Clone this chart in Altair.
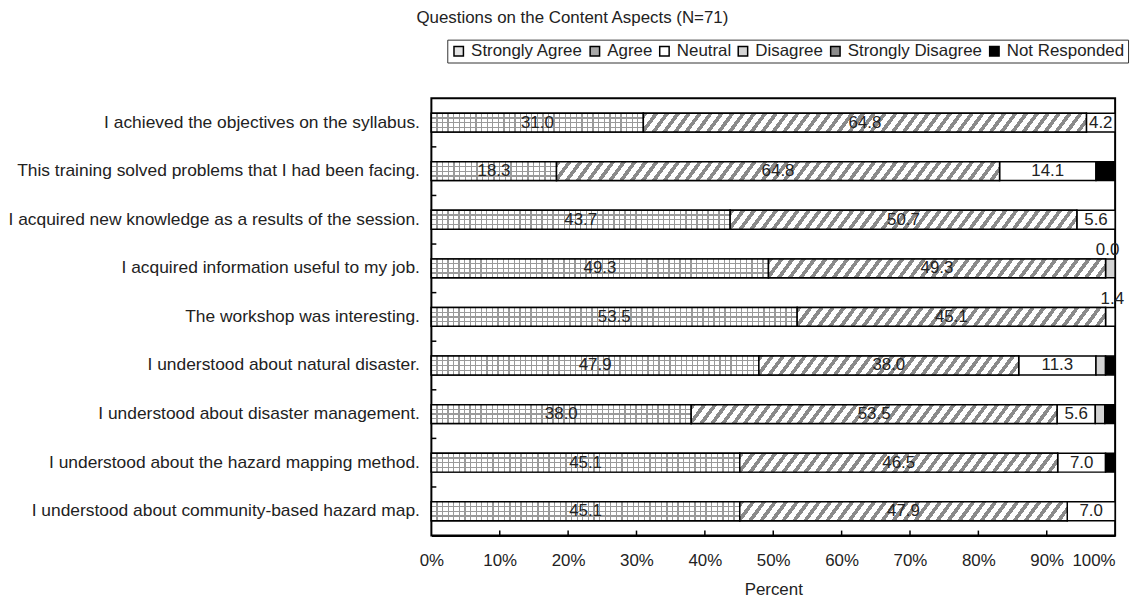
import altair as alt
import pandas as pd

FONT = "Liberation Sans"

questions = [
    "I achieved the objectives on the syllabus.",
    "This training solved problems that I had been facing.",
    "I acquired new knowledge as a results of the session.",
    "I acquired information useful to my job.",
    "The workshop was interesting.",
    "I understood about natural disaster.",
    "I understood about disaster management.",
    "I understood about the hazard mapping method.",
    "I understood about community-based hazard map.",
]
categories = ["Strongly Agree", "Agree", "Neutral", "Disagree",
              "Strongly Disagree", "Not Responded"]
strongly_agree = [31.0, 18.3, 43.7, 49.3, 53.5, 47.9, 38.0, 45.1, 45.1]
agree = [64.8, 64.8, 50.7, 49.3, 45.1, 38.0, 53.5, 46.5, 47.9]
neutral = [4.2, 14.1, 5.6, 0.0, 1.4, 11.3, 5.6, 7.0, 7.0]
disagree = [0.0, 0.0, 0.0, 1.4, 0.0, 1.4, 1.4, 0.0, 0.0]
strongly_disagree = [0.0, 0.0, 0.0, 0.0, 0.0, 0.0, 0.0, 0.0, 0.0]
not_responded = [0.0, 2.8, 0.0, 0.0, 0.0, 1.4, 1.4, 1.4, 0.0]
x_ticks = [0, 10, 20, 30, 40, 50, 60, 70, 80, 90, 100]

series = [strongly_agree, agree, neutral, disagree, strongly_disagree, not_responded]

W, H = 688, 440
BAR = 19
FS = 17

rows = []
for qi, q in enumerate(questions):
    start = 0.0
    for ci, c in enumerate(categories):
        v = series[ci][qi]
        rows.append({"question": q, "qi": qi, "category": c, "ci": ci,
                     "value": v, "x0": start, "x1": start + v,
                     "mid": start + v / 2})
        start += v
df = pd.DataFrame(rows)

y_enc = alt.Y("question:N", sort=questions,
              scale=alt.Scale(paddingInner=0, paddingOuter=0),
              axis=alt.Axis(title=None, ticks=False, domain=False,
                            labelFontSize=17.5, labelPadding=12, labelLimit=1000,
                            labelColor="#222", labelFont=FONT))
x_enc = alt.X("x0:Q", scale=alt.Scale(domain=[0, 100], nice=False),
              axis=alt.Axis(values=x_ticks, labelExpr="datum.value + '%'",
                            ticks=False, grid=False, domainColor="black",
                            domainWidth=2, labelFontSize=FS, labelPadding=17,
                            labelFlush=False,
                            labelAlign=alt.ExprRef(
                                expr="datum.value == 100 ? 'right' : 'center'"),
                            labelColor="#222", labelFont=FONT,
                            title="Percent", titleFontSize=FS,
                            titleFontWeight="normal", titleFont=FONT,
                            titleColor="#222", titlePadding=13))

base = alt.Chart(df).transform_filter("datum.value > 0").mark_bar(
    size=BAR, stroke="black", strokeWidth=1.5, opacity=1
).encode(
    y=y_enc, x=x_enc, x2="x1:Q",
    color=alt.Color("category:N",
                    scale=alt.Scale(domain=categories,
                                    range=["#e4e4e4", "#a8a8a8", "#ffffff",
                                           "#d4d4d4", "#8c8c8c", "#000000"]),
                    legend=alt.Legend(title=None, orient="none", legendX=16,
                                      legendY=-59, direction="horizontal",
                                      symbolType="square", symbolSize=90,
                                      symbolStrokeColor="black",
                                      symbolStrokeWidth=1.5, symbolOpacity=1,
                                      labelFontSize=FS, labelFont=FONT,
                                      labelColor="#222", strokeColor="#333",
                                      padding=3, columnPadding=3,
                                      labelOffset=4)),
)

layers = [base]

# horizontal grid lines for Strongly Agree
hstops = [alt.GradientStop(color="#ffffff", offset=0.0)]
for f in [0.25, 0.5, 0.75]:
    hstops += [alt.GradientStop(color="#ffffff", offset=f - 0.035),
               alt.GradientStop(color="#9a9a9a", offset=f - 0.035),
               alt.GradientStop(color="#9a9a9a", offset=f + 0.035),
               alt.GradientStop(color="#ffffff", offset=f + 0.035)]
hstops.append(alt.GradientStop(color="#ffffff", offset=1.0))
hgrad = alt.LinearGradient(gradient="linear", stops=hstops, x1=0, x2=0, y1=0, y2=1)

layers.append(
    alt.Chart(df).transform_filter("datum.ci == 0").mark_bar(
        size=BAR, fill=hgrad, strokeWidth=0).encode(
        y=alt.Y("question:N", sort=questions), x="x0:Q", x2="x1:Q")
)

CELL = 5.6
LINE = 1.3
for qi, q in enumerate(questions):
    w = strongly_agree[qi] / 100 * W
    n = max(1, round(w / CELL))
    lw = LINE / w
    stops = []
    for k in range(1, n):
        o = k / n
        stops += [alt.GradientStop(color="rgba(255,255,255,0)", offset=o - lw / 2),
                  alt.GradientStop(color="#9a9a9a", offset=o - lw / 2),
                  alt.GradientStop(color="#9a9a9a", offset=o + lw / 2),
                  alt.GradientStop(color="rgba(255,255,255,0)", offset=o + lw / 2)]
    stops = ([alt.GradientStop(color="rgba(255,255,255,0)", offset=0.0)] + stops +
             [alt.GradientStop(color="rgba(255,255,255,0)", offset=1.0)])
    vgrad = alt.LinearGradient(gradient="linear", stops=stops, x1=0, x2=1, y1=0, y2=0)
    layers.append(
        alt.Chart(df).transform_filter(f"datum.ci == 0 && datum.qi == {qi}").mark_bar(
            size=BAR, fill=vgrad, stroke="black", strokeWidth=1.5).encode(
            y=alt.Y("question:N", sort=questions), x="x0:Q", x2="x1:Q")
    )

SLANT = 14.0
PERIOD = 11.0
DUTY = 0.42
for qi, q in enumerate(questions):
    w = agree[qi] / 100 * W
    a = SLANT / w
    L = (1 + a) / (1 + a * a)
    n = max(1, round((w + SLANT) / PERIOD))
    stops = []
    for k in range(n):
        o0 = k / n
        o1 = (k + DUTY) / n
        o2 = (k + 1) / n
        stops += [alt.GradientStop(color="#8a8a8a", offset=o0),
                  alt.GradientStop(color="#8a8a8a", offset=o1),
                  alt.GradientStop(color="#ffffff", offset=o1),
                  alt.GradientStop(color="#ffffff", offset=o2)]
    dgrad = alt.LinearGradient(gradient="linear", stops=stops,
                               x1=0, y1=0, x2=L, y2=a * L)
    layers.append(
        alt.Chart(df).transform_filter(f"datum.ci == 1 && datum.qi == {qi}").mark_bar(
            size=BAR, fill=dgrad, stroke="black", strokeWidth=1.5).encode(
            y=alt.Y("question:N", sort=questions), x="x0:Q", x2="x1:Q")
    )

labels_big = alt.Chart(df).transform_filter(
    "datum.ci <= 2 && datum.value >= 2").mark_text(
    fontSize=FS, font=FONT, color="#222", baseline="middle", align="center"
).encode(y=alt.Y("question:N", sort=questions), x="mid:Q",
         text=alt.Text("value:Q", format=".1f"))

labels_small = alt.Chart(df).transform_filter(
    "datum.ci == 2 && datum.value < 2").mark_text(
    fontSize=FS, font=FONT, color="#222", baseline="middle", align="center",
    dy=-18, dx=2
).encode(y=alt.Y("question:N", sort=questions), x="mid:Q",
         text=alt.Text("value:Q", format=".1f"))

xticks = alt.Chart(pd.DataFrame({"t": x_ticks[1:-1]})).mark_rule(
    color="black", strokeWidth=1.5).encode(
    x="t:Q", y=alt.value(H - 5), y2=alt.value(H))

yticks = alt.Chart(pd.DataFrame({"question": questions[1:]})).mark_rule(
    color="black", strokeWidth=1.5).encode(
    y=alt.Y("question:N", sort=questions, bandPosition=0),
    x=alt.value(0), x2=alt.value(5))

layers += [labels_big, labels_small, xticks, yticks]

chart = alt.layer(*layers).properties(
    width=W, height=H,
    autosize=alt.AutoSizeParams(type="none"),
    padding={"left": 426, "top": 89, "right": 20, "bottom": 64},
    title=alt.TitleParams("Questions on the Content Aspects (N=71)",
                          anchor="start", dx=-15, fontSize=FS,
                          fontWeight="normal", font=FONT, color="#222",
                          offset=12, frame="group"),
).configure_view(stroke="black", strokeWidth=2)

chart.save("out.html", embed_options={"renderer": "svg", "actions": False})
